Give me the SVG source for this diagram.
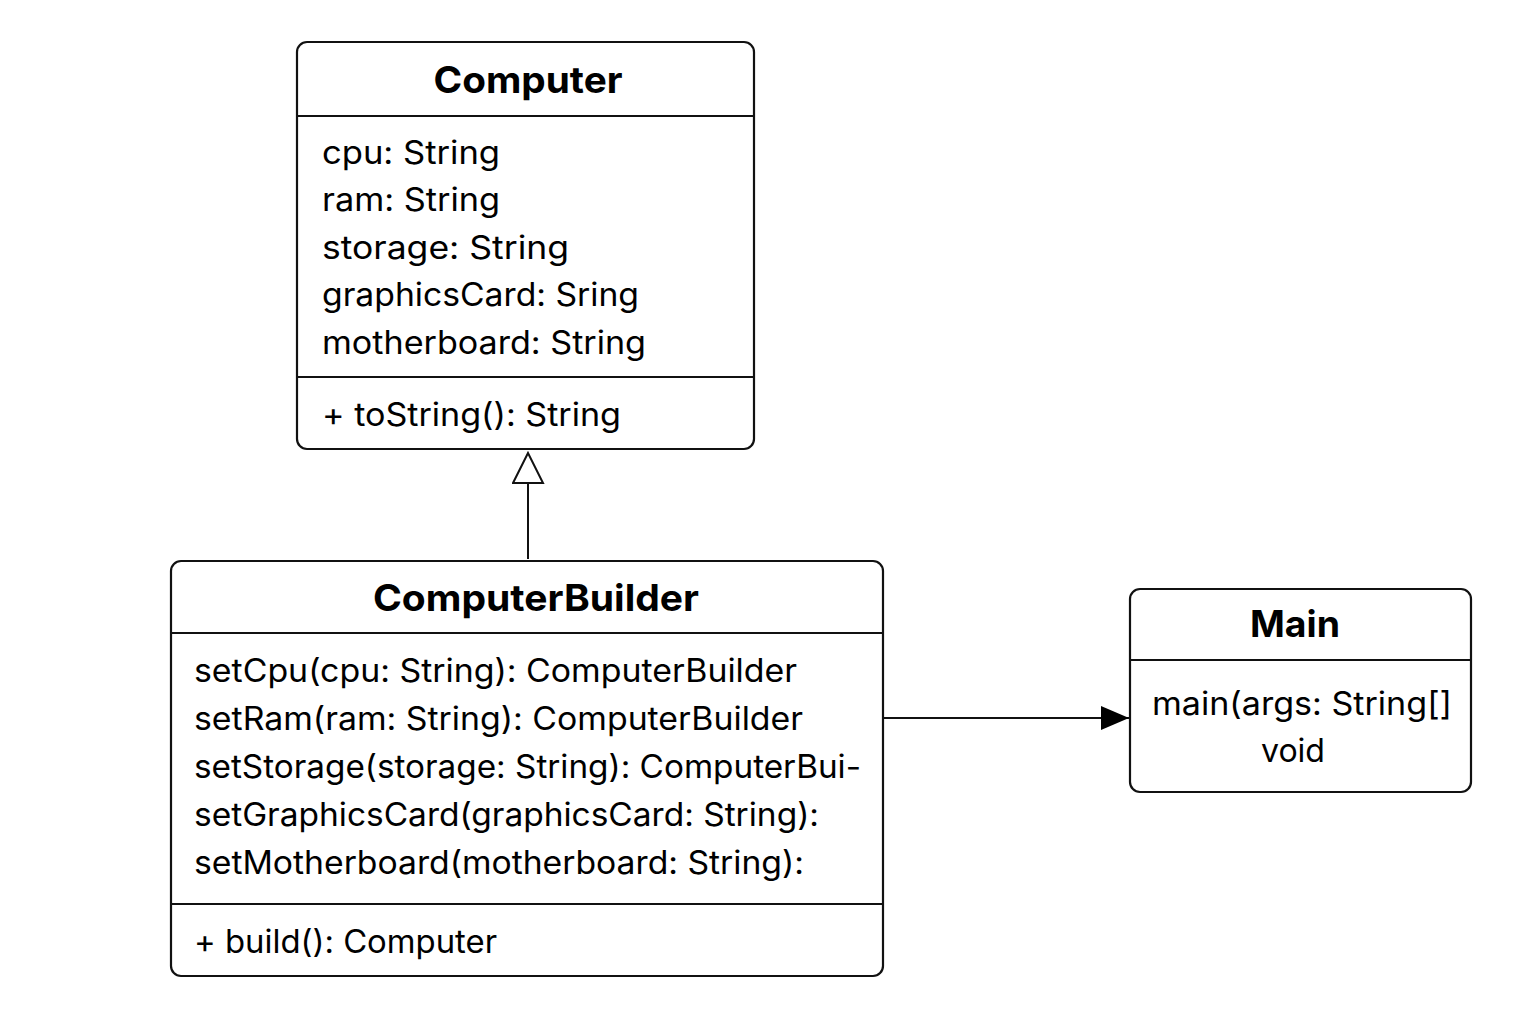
<svg xmlns="http://www.w3.org/2000/svg" width="1536" height="1024" viewBox="0 0 1536 1024">
<style>
.box{fill:#fff;stroke:#111;stroke-width:2.2}
.sep{stroke:#111;stroke-width:2}
.title{font-family:Inter,"Liberation Sans",sans-serif;font-weight:bold;font-size:37px;fill:#000;text-anchor:middle}
.t{font-family:Inter,"Liberation Sans",sans-serif;font-size:32px;fill:#000}
.c{text-anchor:middle}
.edge{stroke:#111;stroke-width:2;fill:none}
</style>
<defs>
<marker id="inh" markerWidth="34" markerHeight="34" refX="31" refY="16" orient="auto" markerUnits="userSpaceOnUse">
<path d="M1,1 L31,16 L1,31 Z" fill="#fff" stroke="#111" stroke-width="2"/>
</marker>
<marker id="arr" markerWidth="30" markerHeight="26" refX="28" refY="12" orient="auto" markerUnits="userSpaceOnUse">
<path d="M0,0 L28,12 L0,24 Z" fill="#000"/>
</marker>
</defs>
<g id="connectors">
<line class="edge" x1="528" y1="559" x2="528" y2="453" marker-end="url(#inh)"/>
<line class="edge" x1="884" y1="718" x2="1129" y2="718" marker-end="url(#arr)"/>
</g>
<g id="Computer">
<rect class="box" x="297" y="42" width="457" height="407" rx="10"/>
<line class="sep" x1="297" y1="116" x2="754" y2="116"/>
<line class="sep" x1="297" y1="377" x2="754" y2="377"/>
<text class="title" x="528" y="93" textLength="189" lengthAdjust="spacingAndGlyphs">Computer</text>
<text class="t" x="322" y="164" textLength="178" lengthAdjust="spacingAndGlyphs">cpu: String</text>
<text class="t" x="322" y="211" textLength="178" lengthAdjust="spacingAndGlyphs">ram: String</text>
<text class="t" x="322" y="259" textLength="247" lengthAdjust="spacingAndGlyphs">storage: String</text>
<text class="t" x="322" y="306" textLength="317" lengthAdjust="spacingAndGlyphs">graphicsCard: Sring</text>
<text class="t" x="322" y="354" textLength="324" lengthAdjust="spacingAndGlyphs">motherboard: String</text>
<text class="t" x="322" y="426" textLength="299" lengthAdjust="spacingAndGlyphs">+ toString(): String</text>
</g>
<g id="ComputerBuilder">
<rect class="box" x="171" y="561" width="712" height="415" rx="10"/>
<line class="sep" x1="171" y1="633" x2="883" y2="633"/>
<line class="sep" x1="171" y1="904" x2="883" y2="904"/>
<text class="title" x="536" y="611" textLength="326" lengthAdjust="spacingAndGlyphs">ComputerBuilder</text>
<text class="t" x="194" y="682" textLength="603" lengthAdjust="spacingAndGlyphs">setCpu(cpu: String): ComputerBuilder</text>
<text class="t" x="194" y="730" textLength="609" lengthAdjust="spacingAndGlyphs">setRam(ram: String): ComputerBuilder</text>
<text class="t" x="194" y="778" textLength="667" lengthAdjust="spacingAndGlyphs">setStorage(storage: String): ComputerBui-</text>
<text class="t" x="194" y="826" textLength="625" lengthAdjust="spacingAndGlyphs">setGraphicsCard(graphicsCard: String):</text>
<text class="t" x="194" y="874" textLength="610" lengthAdjust="spacingAndGlyphs">setMotherboard(motherboard: String):</text>
<text class="t" x="194" y="953" textLength="303" lengthAdjust="spacingAndGlyphs">+ build(): Computer</text>
</g>
<g id="Main">
<rect class="box" x="1130" y="589" width="341" height="203" rx="10"/>
<line class="sep" x1="1130" y1="660" x2="1471" y2="660"/>
<text class="title" x="1295" y="637" textLength="90" lengthAdjust="spacingAndGlyphs">Main</text>
<text class="t c" x="1302" y="715" textLength="300" lengthAdjust="spacingAndGlyphs">main(args: String[]</text>
<text class="t c" x="1293" y="762" textLength="64" lengthAdjust="spacingAndGlyphs">void</text>
</g>
</svg>
